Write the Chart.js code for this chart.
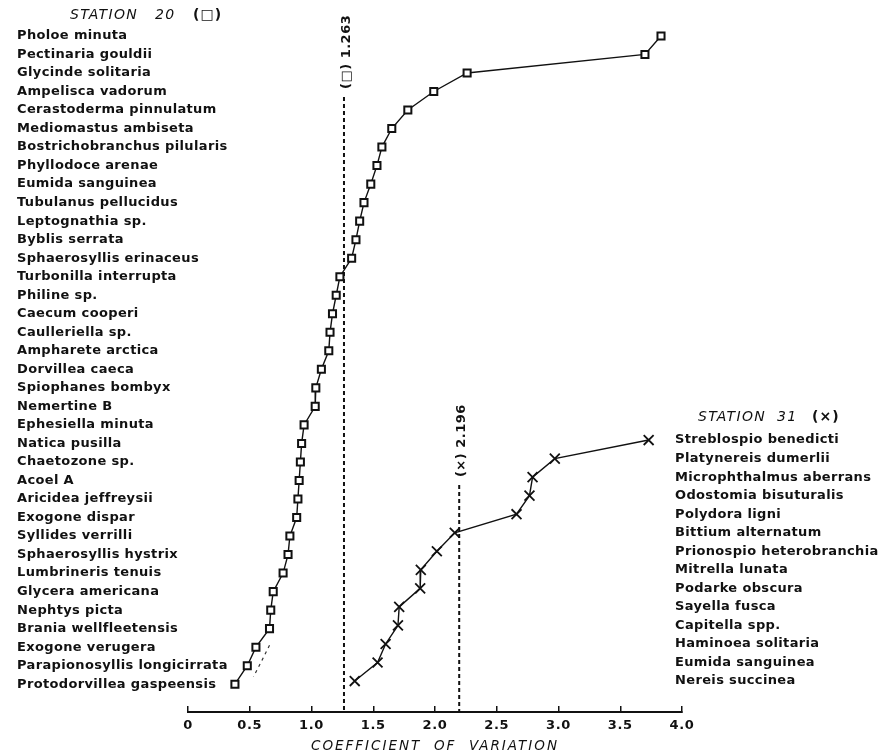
<!DOCTYPE html>
<html>
<head>
<meta charset="utf-8">
<title>Coefficient of variation, stations 20 and 31</title>
<script src="https://cdn.jsdelivr.net/npm/chart.js@4.4.1/dist/chart.umd.min.js"></script>
<style>
  html, body { margin: 0; padding: 0; background: #fff; }
  #cv { display: block; }
</style>
</head>
<body>
<canvas id="cv" width="882" height="753"></canvas>
<script>
// station 20, listed top to bottom
const species20 = [
  'Pholoe minuta', 'Pectinaria gouldii', 'Glycinde solitaria', 'Ampelisca vadorum',
  'Cerastoderma pinnulatum', 'Mediomastus ambiseta', 'Bostrichobranchus pilularis',
  'Phyllodoce arenae', 'Eumida sanguinea', 'Tubulanus pellucidus', 'Leptognathia sp.',
  'Byblis serrata', 'Sphaerosyllis erinaceus', 'Turbonilla interrupta', 'Philine sp.',
  'Caecum cooperi', 'Caulleriella sp.', 'Ampharete arctica', 'Dorvillea caeca',
  'Spiophanes bombyx', 'Nemertine B', 'Ephesiella minuta', 'Natica pusilla',
  'Chaetozone sp.', 'Acoel A', 'Aricidea jeffreysii', 'Exogone dispar',
  'Syllides verrilli', 'Sphaerosyllis hystrix', 'Lumbrineris tenuis', 'Glycera americana',
  'Nephtys picta', 'Brania wellfleetensis', 'Exogone verugera',
  'Parapionosyllis longicirrata', 'Protodorvillea gaspeensis'
];
const cv20 = [
  3.83, 3.70, 2.26, 1.99, 1.78, 1.65, 1.57, 1.53, 1.48, 1.425, 1.39, 1.36,
  1.325, 1.23, 1.20, 1.17, 1.15, 1.14, 1.08, 1.035, 1.03, 0.94, 0.92, 0.91,
  0.90, 0.89, 0.88, 0.825, 0.81, 0.77, 0.69, 0.67, 0.66, 0.55, 0.48, 0.38
];

// station 31, listed top to bottom
const species31 = [
  'Streblospio benedicti', 'Platynereis dumerlii', 'Microphthalmus aberrans',
  'Odostomia bisuturalis', 'Polydora ligni', 'Bittium alternatum',
  'Prionospio heterobranchia', 'Mitrella lunata', 'Podarke obscura', 'Sayella fusca',
  'Capitella spp.', 'Haminoea solitaria', 'Eumida sanguinea', 'Nereis succinea'
];
const cv31 = [3.73, 2.97, 2.79, 2.765, 2.66, 2.16, 2.015, 1.885, 1.88, 1.71, 1.70, 1.60, 1.535, 1.35];

// station means and the row where each dashed line starts
const meanCV = [1.263, 2.196];
const meanTopRow = [3.3, 24.25];
const meanText = ['(\u25A1) 1.263', '(\u00D7) 2.196'];

// hand-drawn tail beside the last squares
const tailCV = [0.66, 0.60, 0.53];
const tailRow = [32.9, 33.7, 34.6];

const xTicks = [0, 0.5, 1.0, 1.5, 2.0, 2.5, 3.0, 3.5, 4.0];

const INK = '#111';
const FONT = '"DejaVu Sans", sans-serif';
Chart.defaults.font.family = FONT;
Chart.defaults.color = INK;

const Y_MAX = 36.5;

const textSpacing = {
  id: 'textSpacing',
  beforeDraw(chart) {
    chart.ctx.letterSpacing = '0.6px';
  }
};

// species names sit on the row ticks of each y scale; the left list runs
// into the plot area, so they are drawn here rather than as clipped tick labels
const speciesLabels = {
  id: 'speciesLabels',
  beforeDatasetsDraw(chart) {
    const { ctx, chartArea, scales: { y, y2 } } = chart;
    ctx.save();
    ctx.font = 'bold 13px ' + FONT;
    ctx.letterSpacing = '0.35px';
    ctx.fillStyle = INK;
    ctx.textBaseline = 'middle';
    y.ticks.forEach(t => ctx.fillText(species20[t.value], 17, y.getPixelForValue(t.value)));
    y2.ticks.forEach(t => ctx.fillText(species31[t.value], chartArea.right - 7, y2.getPixelForValue(t.value)));
    ctx.restore();
  }
};

const captions = {
  id: 'captions',
  afterDraw(chart) {
    const { ctx, scales: { x, y } } = chart;
    ctx.save();
    ctx.fillStyle = INK;
    ctx.textBaseline = 'middle';

    // station headings
    ctx.font = 'italic 14px ' + FONT;
    ctx.letterSpacing = '1.3px';
    ctx.fillText('STATION', 70, 15);
    ctx.fillText('20', 155, 15);
    ctx.fillText('STATION', 698, 417);
    ctx.fillText('31', 777, 417);
    ctx.font = 'bold 14px ' + FONT;
    ctx.letterSpacing = '1px';
    ctx.fillText('(\u25A1)', 193, 15);
    ctx.fillText('(\u00D7)', 812, 417);

    // x axis title
    ctx.font = 'italic 13.5px ' + FONT;
    ctx.letterSpacing = '2px';
    ctx.textAlign = 'center';
    ctx.fillText('COEFFICIENT  OF  VARIATION', (x.left + x.right) / 2, 746);

    // mean values, reading upward above each dashed line
    ctx.font = 'bold 13px ' + FONT;
    ctx.letterSpacing = '0.5px';
    ctx.textAlign = 'left';
    meanCV.forEach((v, i) => {
      ctx.save();
      ctx.translate(x.getPixelForValue(v) + 2.5, y.getPixelForValue(meanTopRow[i]) - 8);
      ctx.rotate(-Math.PI / 2);
      ctx.fillText(meanText[i], 0, 0);
      ctx.restore();
    });
    ctx.restore();
  }
};

new Chart(document.getElementById('cv'), {
  type: 'scatter',
  data: {
    datasets: [
      {
        label: 'Station 20',
        data: cv20.map((v, i) => ({ x: v, y: i })),
        yAxisID: 'y',
        showLine: true,
        borderColor: INK,
        borderWidth: 1.4,
        pointStyle: 'rect',
        pointRadius: 5,
        pointBorderWidth: 2,
        pointBackgroundColor: '#fff',
        pointBorderColor: INK
      },
      {
        label: 'Station 31',
        data: cv31.map((v, i) => ({ x: v, y: i })),
        yAxisID: 'y2',
        showLine: true,
        borderColor: INK,
        borderWidth: 1.4,
        pointStyle: 'crossRot',
        pointRadius: 7,
        pointBorderWidth: 1.8,
        pointBorderColor: INK
      },
      ...meanCV.map((v, i) => ({
        label: 'mean ' + v,
        data: [{ x: v, y: meanTopRow[i] }, { x: v, y: Y_MAX }],
        yAxisID: 'y',
        showLine: true,
        borderColor: INK,
        borderWidth: 2,
        borderDash: [4, 3],
        pointRadius: 0
      })),
      {
        label: 'tail',
        data: tailCV.map((v, i) => ({ x: v, y: tailRow[i] })),
        yAxisID: 'y',
        showLine: true,
        borderColor: '#333',
        borderWidth: 1.2,
        borderDash: [3, 4],
        pointRadius: 0
      }
    ]
  },
  options: {
    responsive: false,
    animation: false,
    layout: { padding: { left: 17, right: 0, top: 10, bottom: 0 } },
    plugins: {
      legend: { display: false },
      tooltip: { enabled: false },
      title: { display: false }
    },
    scales: {
      x: {
        type: 'linear',
        min: 0,
        max: 4,
        afterBuildTicks: s => { s.ticks = xTicks.map(v => ({ value: v })); },
        afterFit: s => { s.height = 41; },
        ticks: {
          callback: v => (v === 0 ? '0' : v.toFixed(1)),
          font: { size: 13, weight: 'bold' },
          padding: 12,
          maxRotation: 0,
          autoSkip: false
        },
        grid: { drawOnChartArea: false, drawTicks: true, tickLength: -6, color: INK, lineWidth: 1.5 },
        border: { display: true, color: INK, width: 2 }
      },
      y: {
        type: 'linear',
        position: 'left',
        reverse: true,
        min: -1.4,
        max: Y_MAX,
        afterBuildTicks: s => { s.ticks = species20.map((_, i) => ({ value: i })); },
        afterFit: s => { s.width = 171; },
        ticks: { display: false },
        grid: { display: false, drawTicks: false },
        border: { display: false }
      },
      y2: {
        type: 'linear',
        position: 'right',
        reverse: true,
        min: -23.2,
        max: 14.67,
        afterBuildTicks: s => { s.ticks = species31.map((_, i) => ({ value: i })); },
        afterFit: s => { s.width = 200; },
        ticks: { display: false },
        grid: { display: false, drawTicks: false },
        border: { display: false }
      }
    }
  },
  plugins: [textSpacing, speciesLabels, captions]
});
</script>
</body>
</html>
